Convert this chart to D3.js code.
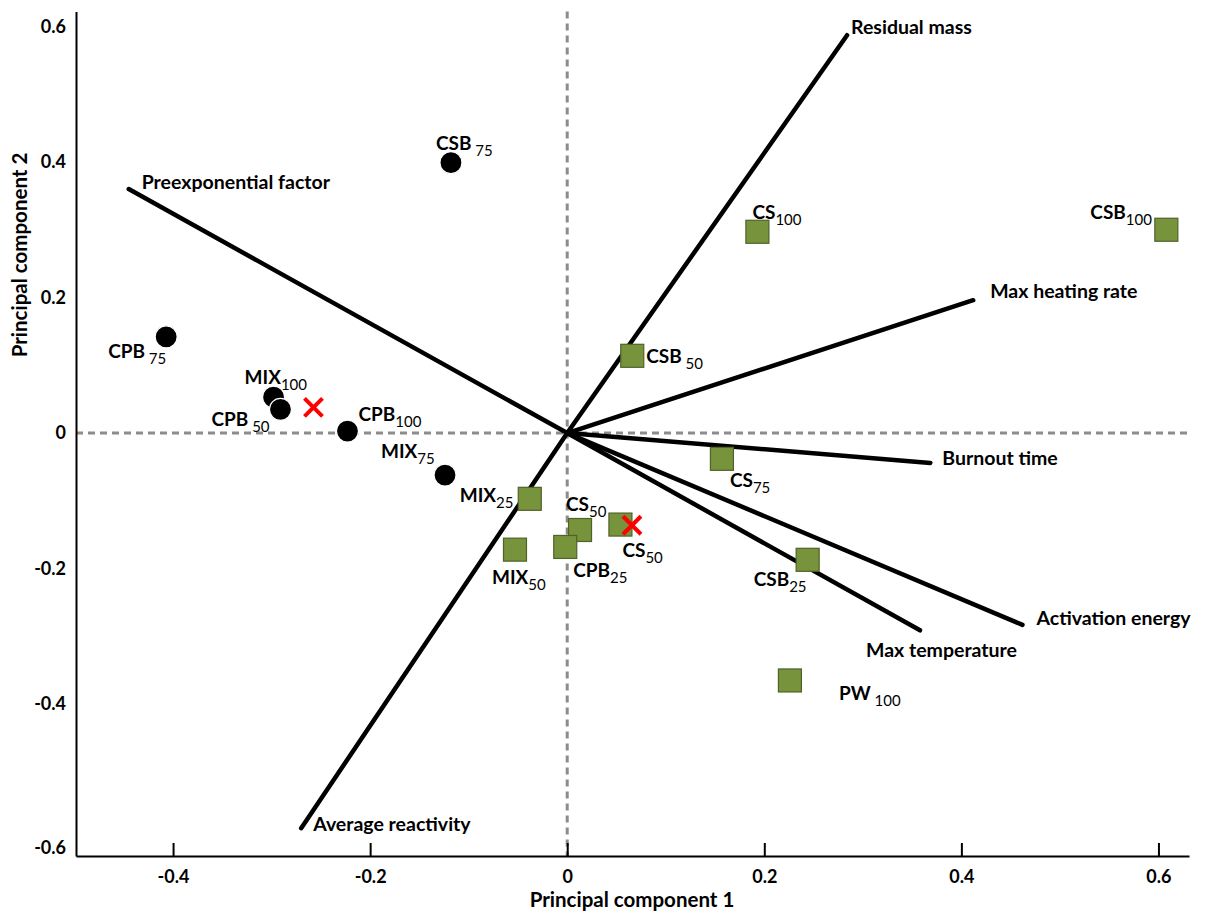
<!DOCTYPE html>
<html>
<head>
<meta charset="utf-8">
<script src="https://cdnjs.cloudflare.com/ajax/libs/d3/7.8.5/d3.min.js"></script>
<style>
  body { margin: 0; background: #fff; }
  text { font-family: Lato, "Open Sans", sans-serif; }
</style>
</head>
<body>
<div id="chart"></div>
<script>
let width = 1211;
let height = 915;

////////////////////////////////
//   Data
////////////////////////////////
// loading vectors (end points)
let loadingNames = ["Residual mass", "Preexponential factor", "Max heating rate", "Burnout time",
                    "Activation energy", "Max temperature", "Average reactivity"];
let loadingX = [0.284, -0.445, 0.412, 0.3685, 0.462, 0.358, -0.270];
let loadingY = [0.587, 0.360, 0.196, -0.044, -0.283, -0.291, -0.583];

// black circles
let circleNames = ["CSB", "CPB", "MIX", "CPB", "CPB", "MIX"];
let circleSubs  = [" 75", " 75", "100", " 50", "100", "75"];
let circleX = [-0.118, -0.407, -0.298, -0.291, -0.223, -0.124];
let circleY = [0.399, 0.142, 0.053, 0.035, 0.003, -0.062];

// green squares
let squareNames = ["MIX", "CS", "CS", "MIX", "CPB", "CS", "CSB", "CSB", "CS", "CSB", "PW"];
let squareSubs  = ["25", "50", "50", "50", "25", "100", "100", " 50", "75", "25", " 100"];
let squareX = [-0.038, 0.013, 0.054, -0.053, -0.002, 0.193, 0.608, 0.066, 0.157, 0.244, 0.226];
let squareY = [-0.097, -0.143, -0.135, -0.172, -0.168, 0.297, 0.300, 0.114, -0.038, -0.187, -0.365];

// red crosses
let crossX = [-0.2575, 0.0657];
let crossY = [0.038, -0.136];

let xTicks = [-0.4, -0.2, 0, 0.2, 0.4, 0.6];
let yTicks = [-0.6, -0.4, -0.2, 0, 0.2, 0.4, 0.6];

// label offsets in px (layout only)
let loadingLabelOffset = [[4, -1], [13, 0], [17, -2], [12, 2], [14, 0], [-54, 27], [12, 3]];
let circleLabelOffset = [[-15, -13], [-58, 21], [-29, -13], [-69, 17], [11, -10], [-64, -17]];
let squareLabelOffset = [[-70, 3], [-14, -19], [2, 32], [-23, 34], [8, 30], [-5, -13],
                         [-76, -11], [14, 7], [8, 28], [-54, 26], [49, 20]];

let fmt = d => d === 0 ? "0" : d3.format(".1f")(d).replace("\u2212", "-");

/////////////////////////////
//   Setup Chart Elements
/////////////////////////////
let svg = d3.select("#chart")
  .append("svg")
  .attr("width", width)
  .attr("height", height);

let x = d3.scaleLinear().domain([-0.4985, 0.631]).range([76, 1189]);
let y = d3.scaleLinear().domain([-0.624, 0.622]).range([856, 11.5]);

// dashed zero lines
svg.append("line")
  .attr("x1", x(0)).attr("x2", x(0))
  .attr("y1", y(0.622)).attr("y2", y(-0.624))
  .attr("stroke", "#8c8c8c").attr("stroke-width", 3).attr("stroke-dasharray", "7,5");
svg.append("line")
  .attr("x1", x(-0.4985)).attr("x2", x(0.631))
  .attr("y1", y(0)).attr("y2", y(0))
  .attr("stroke", "#8c8c8c").attr("stroke-width", 3).attr("stroke-dasharray", "7,5");

// x axis
let xAxis = svg.append("g")
  .attr("transform", "translate(0," + y(-0.624) + ")")
  .call(d3.axisBottom(x).tickValues(xTicks).tickSize(-13).tickSizeOuter(0).tickFormat(fmt));
xAxis.select(".domain").attr("stroke", "#000").attr("stroke-width", 2);
xAxis.selectAll(".tick line").attr("stroke", "#000").attr("stroke-width", 2);
xAxis.selectAll(".tick text")
  .attr("y", 14)
  .attr("font-size", "18px")
  .attr("font-weight", "bold")
  .attr("fill", "#000");

// y axis
let yAxis = svg.append("g")
  .attr("transform", "translate(" + x(-0.4985) + ",0)")
  .call(d3.axisLeft(y).tickValues(yTicks).tickSize(0).tickSizeOuter(0).tickFormat(fmt));
yAxis.select(".domain").attr("stroke", "#000").attr("stroke-width", 2);
yAxis.selectAll(".tick text")
  .attr("x", -10)
  .attr("font-size", "18px")
  .attr("font-weight", "bold")
  .attr("fill", "#000");
// bottom label sits a little lower in the original
yAxis.selectAll(".tick text").filter(d => d === -0.6).attr("y", 8);

///////////////////////////
//   Loading vectors
///////////////////////////
let loadings = loadingNames.map((n, i) => ({name: n, x: loadingX[i], y: loadingY[i], off: loadingLabelOffset[i]}));

svg.append("g")
  .selectAll("line")
  .data(loadings)
  .enter()
  .append("line")
    .attr("x1", x(0)).attr("y1", y(0))
    .attr("x2", d => x(d.x)).attr("y2", d => y(d.y))
    .attr("stroke", "#000")
    .attr("stroke-width", 4.5)
    .attr("stroke-linecap", "round");

svg.append("g")
  .selectAll("text")
  .data(loadings)
  .enter()
  .append("text")
    .attr("x", d => x(d.x) + d.off[0])
    .attr("y", d => y(d.y) + d.off[1])
    .attr("font-size", "19.5px")
    .attr("font-weight", "bold")
    .text(d => d.name);

///////////////////////////
//   Scores
///////////////////////////
let circles = circleNames.map((n, i) => ({name: n, sub: circleSubs[i], x: circleX[i], y: circleY[i], off: circleLabelOffset[i]}));
let squares = squareNames.map((n, i) => ({name: n, sub: squareSubs[i], x: squareX[i], y: squareY[i], off: squareLabelOffset[i]}));

svg.append("g")
  .selectAll("circle")
  .data(circles)
  .enter()
  .append("circle")
    .attr("cx", d => x(d.x))
    .attr("cy", d => y(d.y))
    .attr("r", 11)
    .attr("fill", "#000")
    .attr("stroke", "#fff")
    .attr("stroke-width", 1.2);

let sq = 23;
svg.append("g")
  .selectAll("rect")
  .data(squares)
  .enter()
  .append("rect")
    .attr("x", d => x(d.x) - sq / 2)
    .attr("y", d => y(d.y) - sq / 2)
    .attr("width", sq)
    .attr("height", sq)
    .attr("fill", "#77933c")
    .attr("stroke", "#4f6228")
    .attr("stroke-width", 1.2);

// red crosses
let crosses = crossX.map((v, i) => ({x: v, y: crossY[i]}));
let cs = 9;
let crossG = svg.append("g")
  .selectAll("g")
  .data(crosses)
  .enter()
  .append("g")
    .attr("transform", d => "translate(" + x(d.x) + "," + y(d.y) + ")");
crossG.append("line").attr("x1", -cs).attr("y1", -cs).attr("x2", cs).attr("y2", cs);
crossG.append("line").attr("x1", -cs).attr("y1", cs).attr("x2", cs).attr("y2", -cs);
crossG.selectAll("line").attr("stroke", "#ff0000").attr("stroke-width", 4);

// point labels with subscripts
let pointLabels = svg.append("g")
  .selectAll("text")
  .data(circles.concat(squares))
  .enter()
  .append("text")
    .attr("x", d => x(d.x) + d.off[0])
    .attr("y", d => y(d.y) + d.off[1])
    .attr("font-size", "19px")
    .attr("font-weight", "bold")
    .attr("xml:space", "preserve");
pointLabels.append("tspan").text(d => d.name);
pointLabels.append("tspan")
  .attr("dy", 6)
  .attr("font-size", "15px")
  .attr("font-weight", "normal")
  .text(d => d.sub);

////////////////////
//   Axis Labels
////////////////////
svg.append("text")
  .attr("x", 632)
  .attr("y", 907)
  .style("text-anchor", "middle")
  .attr("font-size", "20.5px")
  .attr("font-weight", "bold")
  .text("Principal component 1");

svg.append("text")
  .attr("transform", "rotate(-90)")
  .attr("x", -255)
  .attr("y", 27)
  .style("text-anchor", "middle")
  .attr("font-size", "20.5px")
  .attr("font-weight", "bold")
  .text("Principal component 2");
</script>
</body>
</html>
